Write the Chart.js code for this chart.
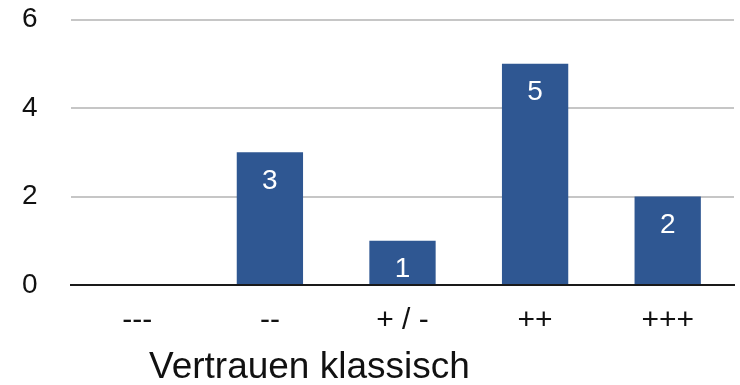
<!DOCTYPE html>
<html lang="de">
<head>
<meta charset="UTF-8">
<title>Vertrauen klassisch</title>
<script src="https://cdn.jsdelivr.net/npm/chart.js"></script>
<style>
  html, body { margin: 0; padding: 0; background: #fff; }
  #wrap { width: 740px; height: 385px; }
</style>
</head>
<body>
<div id="wrap"><canvas id="vertrauenChart"></canvas></div>
<script>
const categories = ['---', '--', '+ / -', '++', '+++'];
const counts = [0, 3, 1, 5, 2];
const yTicks = [0, 2, 4, 6];
const axisTitle = 'Vertrauen klassisch';

const fontFamily = '"Liberation Sans", Arial, Helvetica, sans-serif';

// white count printed inside the top of each bar
const barLabels = {
    id: 'barLabels',
    afterDatasetsDraw(chart) {
        const ctx = chart.ctx;
        const meta = chart.getDatasetMeta(0);
        ctx.save();
        ctx.fillStyle = '#ffffff';
        ctx.font = '28px ' + fontFamily;
        ctx.textAlign = 'center';
        ctx.textBaseline = 'middle';
        meta.data.forEach((bar, i) => {
            if (!counts[i]) return;
            ctx.fillText(String(counts[i]), bar.x, bar.y + 29);
        });
        ctx.restore();
    }
};

// category caption under the x axis, left of centre
const captionBelow = {
    id: 'captionBelow',
    afterDraw(chart) {
        const ctx = chart.ctx;
        ctx.save();
        ctx.fillStyle = '#111111';
        ctx.font = '37px ' + fontFamily;
        ctx.textAlign = 'left';
        ctx.textBaseline = 'middle';
        ctx.fillText(axisTitle, chart.chartArea.left + 78, chart.height - 17);
        ctx.restore();
    }
};

const ctx = document.getElementById('vertrauenChart').getContext('2d');
const vertrauenChart = new Chart(ctx, {
    type: 'bar',
    data: {
        labels: categories,
        datasets: [{
            data: counts,
            backgroundColor: '#2f5792',
            borderWidth: 0,
            barPercentage: 0.5,
            categoryPercentage: 1.0
        }]
    },
    options: {
        responsive: true,
        maintainAspectRatio: false,
        animation: false,
        layout: { padding: { left: 22, right: 6, top: 19.5, bottom: 36 } },
        plugins: {
            legend: { display: false },
            tooltip: { enabled: false },
            title: { display: false }
        },
        scales: {
            x: {
                grid: { display: false },
                border: { display: true, color: '#1a1a1a', width: 2 },
                ticks: {
                    color: '#111111',
                    padding: 10,
                    font: { family: fontFamily, size: 30 }
                }
            },
            y: {
                min: 0,
                max: 6,
                afterBuildTicks(scale) {
                    scale.ticks = yTicks.map(v => ({ value: v }));
                },
                afterFit(scale) {
                    scale.width = 49;
                },
                grid: {
                    drawTicks: false,
                    lineWidth: 2,
                    color: c => (c.tick && c.tick.value === 0) ? '#1a1a1a' : '#c6c6c6'
                },
                border: { display: false },
                ticks: {
                    color: '#111111',
                    padding: 0,
                    crossAlign: 'far',
                    font: { family: fontFamily, size: 28 }
                }
            }
        }
    },
    plugins: [barLabels, captionBelow]
});
</script>
</body>
</html>
